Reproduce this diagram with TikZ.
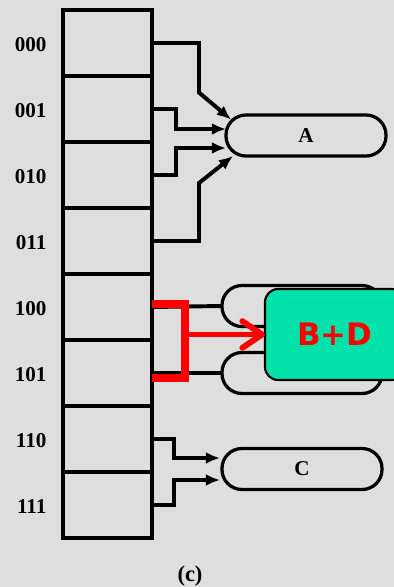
\documentclass[tikz,border=0pt]{standalone}
\usepackage{fontspec}
\newfontfamily\labelfont{Liberation Serif}
\newfontfamily\markfont{DejaVu Sans}
\usetikzlibrary{calc}
\usetikzlibrary{positioning}
\usetikzlibrary{arrows.meta}
\definecolor{paper}{RGB}{222,222,222}
\definecolor{mint}{RGB}{0,226,170}
\tikzset{
	>={Latex[length=10pt,width=8.5pt]},
	dircell/.style={
		rectangle,
		draw=black, line width=2.9pt,
		minimum width=2.225cm,
		minimum height=1.65cm,
		outer sep=0pt},
	dirlabel/.style={
		font=\labelfont\bfseries\fontsize{15}{17}\selectfont},
	bucket/.style={
		rectangle,
		rounded corners=0.5cm,
		draw=black, line width=2.3pt,
		minimum width=4cm,
		minimum height=1.025cm,
		outer sep=0pt,
		font=\labelfont\bfseries\fontsize{15}{17}\selectfont},
	ptr/.style={draw, line width=2.8pt, ->},
	link/.style={draw, line width=2.8pt},
	merged/.style={
		rectangle,
		rounded corners=0.33cm,
		fill=mint,
		draw=black, line width=1.5pt,
		minimum width=3.5cm,
		minimum height=2.275cm,
		outer sep=0pt,
		text=red,
		font=\markfont\bfseries\fontsize{22}{25}\selectfont},
	redline/.style={draw=red, line width=5pt},
	redarrow/.style={draw=red, line width=4.2pt, -{Straight Barb[length=14pt,width=19pt,round]}},
}
\begin{document}
\begin{tikzpicture}[x=0.025cm,y=-0.025cm]
	\useasboundingbox (0,0) rectangle (394,587);
	\fill[paper] (0,0) rectangle (394,587);
	% directory
	\foreach \lbl [count=\i from 0] in {000,001,010,011,100,101,110,111} {
		\node[dircell] (d\i) at (107.5,{43+66*\i}) {};
		\node[dirlabel, left=0.29cm of d\i, yshift=-0.05cm] (l\i) {\lbl};
	}
	% buckets
	\node[bucket] (A) at (306,135.5) {A};
	\node[bucket] (B) at (302,306) {};
	\node[bucket] (D) at (302,373) {};
	\node[bucket] (C) at (302,469) {C};
	% pointers
	\draw[ptr] (d0.east) -| ($(A.west)+(-27,-43)$) -- ($(A.west)+(5,-16)$);
	\draw[ptr] (d1.east) -| ($(A.west)+(-50,-6.5)$) -- ($(A.west)+(0,-6.5)$);
	\draw[ptr] (d2.east) -| ($(A.west)+(-50,12.5)$) -- ($(A.west)+(0,12.5)$);
	\draw[ptr] (d3.east) -| ($(A.west)+(-27,47.5)$) -- ($(A.west)+(7,20.5)$);
	\draw[link] (d4.east) -- (B.west);
	\draw[link] (d5.east) -- (D.west);
	\draw[ptr] (d6.east) -| ($(C.west)+(-48,-11)$) -- ($(C.west)+(-2,-11)$);
	\draw[ptr] (d7.east) -| ($(C.west)+(-48,11)$) -- ($(C.west)+(-2,11)$);
	% merged bucket
	\node[merged] (BD) at (335,334.5) {B+D};
	\draw[redline] ($(d4.east)+(0,-3)$) -| ($(d5.east)+(33,5)$) -- ($(d5.east)+(0,5)$);
	\coordinate (fork) at ($(d4.east)!0.5!(d5.east)+(33,-5.5)$);
	\draw[redarrow] (fork) -- (fork -| BD.west);
	\node[dirlabel, font=\labelfont\bfseries\fontsize{16}{18}\selectfont] (cap) at (190,576) {(c)};
\end{tikzpicture}
\end{document}
